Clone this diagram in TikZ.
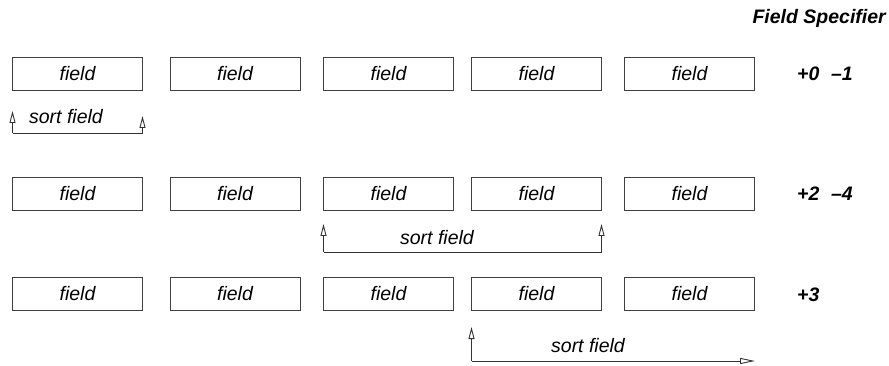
\documentclass[tikz,border=0pt]{standalone}
\usepackage{fontspec}
\setmainfont{Liberation Sans}
\usetikzlibrary{arrows.meta}
\begin{document}
\begin{tikzpicture}[x=1pt,y=-1pt,
  fieldbox/.style={draw=black!75,line width=0.9pt,minimum width=130pt,minimum height=33pt,inner sep=0pt,
    font=\fontsize{19.5}{23}\selectfont\itshape},
  lbl/.style={inner sep=0pt,font=\fontsize{19.5}{23}\selectfont\itshape},
  spec/.style={inner sep=0pt,anchor=west,font=\fontsize{19.5}{23}\selectfont\bfseries\itshape},
  sortarrow/.style={draw=black!80,line width=0.9pt,-{Triangle[open,length=12pt,width=6pt]}}]
\useasboundingbox (0,0) rectangle (889,366);
\node[inner sep=0pt,anchor=east,font=\fontsize{19.5}{23}\selectfont\bfseries\itshape] (title) at (886,18) {Field Specifier};
% rows
\foreach \r/\y in {1/73.5,2/193.5,3/293.5}{
  \node[fieldbox] (b\r1) at (77.5,\y) {field};
  \node[fieldbox] (b\r2) at (235,\y) {field};
  \node[fieldbox] (b\r3) at (388.5,\y) {field};
  \node[fieldbox] (b\r4) at (536.5,\y) {field};
  \node[fieldbox] (b\r5) at (689.5,\y) {field};
}
\node[spec] (s1) at (797,74) {+0\hspace{0.6em}\textendash1};
\node[spec] (s2) at (797,194) {+2\hspace{0.6em}\textendash4};
\node[spec] (s3) at (797,295) {+3};
% row 1 sort field
\coordinate (a1l) at (12.5,133);
\coordinate (a1r) at (142.5,133);
\coordinate (t1l) at (12.5,111);
\coordinate (t1r) at (142.5,116);
\draw[sortarrow] (a1l) -- (t1l);
\draw[sortarrow] (a1l) -- (a1r) -- (t1r);
\node[lbl] (sf1) at (66,117) {sort field};
% row 2 sort field
\coordinate (a2l) at (323.5,252);
\coordinate (a2r) at (601.5,252);
\coordinate (t2l) at (323.5,224);
\coordinate (t2r) at (601.5,224);
\draw[sortarrow] (a2l) -- (t2l);
\draw[sortarrow] (a2l) -- (a2r) -- (t2r);
\node[lbl] (sf2) at (437,238) {sort field};
% row 3 sort field
\coordinate (a3l) at (471.5,361);
\coordinate (t3l) at (471.5,327);
\coordinate (t3r) at (755,361);
\draw[sortarrow] (a3l) -- (t3l);
\draw[sortarrow,-{Triangle[open,length=15pt,width=6pt]}] (a3l) -- (t3r);
\node[lbl] (sf3) at (588,346) {sort field};
\end{tikzpicture}
\end{document}
